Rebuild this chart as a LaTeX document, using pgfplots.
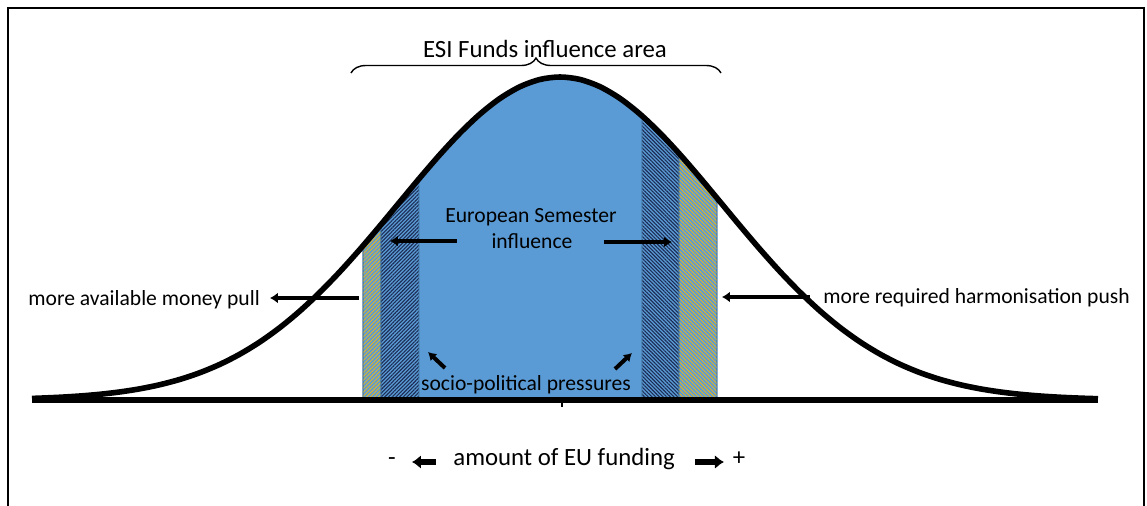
\documentclass[border=0pt]{standalone}
\usepackage{fontspec}
\setmainfont{Carlito}
\usepackage{pgfplots}
\pgfplotsset{compat=1.18}
\usepgfplotslibrary{fillbetween}
\usetikzlibrary{patterns.meta,arrows.meta,decorations.pathreplacing}

\definecolor{fillblue}{RGB}{91,155,213}
\definecolor{edgeblue}{RGB}{65,113,156}
\definecolor{hatchdark}{RGB}{28,45,85}
\definecolor{hatchyel}{RGB}{225,180,40}

\newcommand{\lab}{\fontsize{10.8bp}{13bp}\selectfont}
\newcommand{\biglab}{\fontsize{12.4bp}{15bp}\selectfont}

\begin{document}
\begin{tikzpicture}
\begin{axis}[x=0.5bp,y=0.5bp,xmin=0,xmax=1147,ymin=0,ymax=506,hide axis,clip=false]
\addplot[draw=none,name path=curve,smooth] coordinates {
(32,107.6) (40,107.87) (60,108.76) (80,110.01) (100,111.73) (120,114.08) (140,117.21)
(160,121.32) (180,126.63) (200,133.35) (220,141.70) (240,151.92) (260,164.15)
(280,178.53) (300,195.10) (320,213.80) (340,234.44) (360,256.74) (380,280.23)
(400,304.33) (420,328.35) (440,351.51) (460,372.97) (480,391.92) (500,407.59)
(520,419.30) (540,426.55) (560,429) (580,426.55) (600,419.30) (620,407.59)
(640,391.92) (660,372.97) (680,351.51) (700,328.35) (720,304.33) (740,280.23)
(760,256.74) (780,234.44) (800,213.80) (820,195.10) (840,178.53) (860,164.15)
(880,151.92) (900,141.70) (920,133.35) (940,126.63) (960,121.32) (980,117.21)
(1000,114.08) (1020,111.73) (1040,110.01) (1060,108.76) (1080,107.87) (1098,107.30)};
\addplot[draw=none,name path=base] coordinates {(32,106) (1098,106)};

\addplot[fill=fillblue,draw=edgeblue,line width=0.4bp] fill between[of=curve and base,soft clip={domain=363:717}];
\addplot[pattern={Lines[angle=45,distance=1.4bp,line width=0.45bp]},pattern color=hatchyel,draw=edgeblue,line width=0.4bp] fill between[of=curve and base,soft clip={domain=363:381}];
\addplot[pattern={Lines[angle=45,distance=1.3bp,line width=0.55bp]},pattern color=hatchdark,draw=edgeblue,line width=0.4bp] fill between[of=curve and base,soft clip={domain=381:419}];
\addplot[pattern={Lines[angle=-45,distance=1.3bp,line width=0.55bp]},pattern color=hatchdark,draw=edgeblue,line width=0.4bp] fill between[of=curve and base,soft clip={domain=642:679}];
\addplot[pattern={Lines[angle=-45,distance=1.4bp,line width=0.45bp]},pattern color=hatchyel,draw=edgeblue,line width=0.4bp] fill between[of=curve and base,soft clip={domain=679:717}];

\addplot[black,line width=2.8bp,smooth] coordinates {
(32,107.6) (40,107.87) (60,108.76) (80,110.01) (100,111.73) (120,114.08) (140,117.21)
(160,121.32) (180,126.63) (200,133.35) (220,141.70) (240,151.92) (260,164.15)
(280,178.53) (300,195.10) (320,213.80) (340,234.44) (360,256.74) (380,280.23)
(400,304.33) (420,328.35) (440,351.51) (460,372.97) (480,391.92) (500,407.59)
(520,419.30) (540,426.55) (560,429) (580,426.55) (600,419.30) (620,407.59)
(640,391.92) (660,372.97) (680,351.51) (700,328.35) (720,304.33) (740,280.23)
(760,256.74) (780,234.44) (800,213.80) (820,195.10) (840,178.53) (860,164.15)
(880,151.92) (900,141.70) (920,133.35) (940,126.63) (960,121.32) (980,117.21)
(1000,114.08) (1020,111.73) (1040,110.01) (1060,108.76) (1080,107.87) (1098,107.30)};
\addplot[black,line width=2.8bp] coordinates {(32,106) (1098,106)};

% frame
\draw[black,line width=1.3bp] (8,-5) -- (8,498) -- (1144,498) -- (1144,-5);
% tick under baseline
\draw[black,line width=0.7bp] (562,106) -- (562,99);
% brace
\draw[black,line width=0.7bp,decorate,decoration={brace,amplitude=7.5bp}] (351,433) -- (721,433);

% texts
\node[anchor=base,inner sep=0,font=\biglab] at (545,449) {ESI Funds influence area};
\node[anchor=base,inner sep=0,font=\lab] at (531,284) {European Semester};
\node[anchor=base,inner sep=0,font=\lab] at (532,258) {influence};
\node[anchor=base west,inner sep=0,font=\lab] at (28,201) {more available money pull};
\node[anchor=base west,inner sep=0,font=\lab] at (823,203) {more required harmonisation push};
\node[anchor=base,inner sep=0,font=\lab] at (526,116) {socio-political pressures};
\node[anchor=base west,inner sep=0,font=\biglab] at (453,41) {amount of EU funding};
\node[anchor=base,inner sep=0,font=\biglab] at (392,41) {-};
\node[anchor=base,inner sep=0,font=\biglab] at (739,41) {+};

% arrows
\draw[black,line width=2.4bp,-{Latex[length=4bp,width=5.5bp]}] (457,265) -- (390,265);
\draw[black,line width=2.4bp,-{Latex[length=4bp,width=5.5bp]}] (604,264) -- (672,264);
\draw[black,line width=2.4bp,-{Latex[length=4bp,width=5.5bp]}] (359,208) -- (270,208);
\draw[black,line width=2.4bp,-{Latex[length=4bp,width=5.5bp]}] (810,209) -- (722,209);
\draw[black,line width=2bp,-{Latex[length=4bp,width=5bp]}] (445,138) -- (428,154);
\draw[black,line width=2bp,-{Latex[length=4bp,width=5bp]}] (615,137) -- (632,153);
\draw[black,line width=2.8bp,-{Latex[length=4.5bp,width=7bp]}] (436,44) -- (412,44);
\draw[black,line width=2.8bp,-{Latex[length=4.5bp,width=7bp]}] (695,44) -- (724,44);
\end{axis}
\pgfresetboundingbox
\path (0,0) rectangle (573.5bp,253bp);
\end{tikzpicture}
\end{document}
